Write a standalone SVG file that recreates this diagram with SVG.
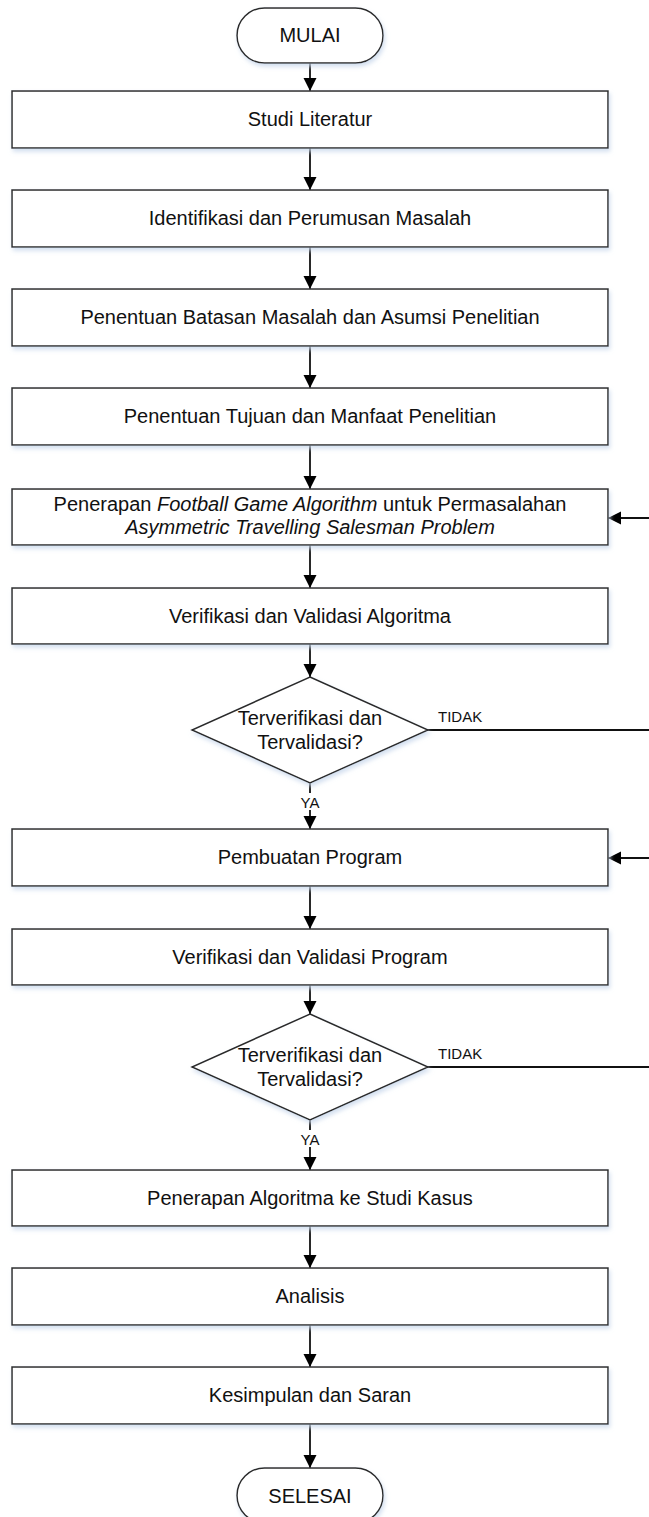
<svg xmlns="http://www.w3.org/2000/svg" width="649" height="1517" viewBox="0 0 649 1517">
<style>
.box{fill:#fff;stroke:#2b2b2b;stroke-width:1.5;filter:url(#sh)}
.t{font-family:"Liberation Sans",Arial,sans-serif;font-size:20px;fill:#111;text-anchor:middle}
.lbl{font-family:"Liberation Sans",Arial,sans-serif;font-size:15px;fill:#111}
.c{fill:none;stroke:#111;stroke-width:1.8}
</style>
<defs>
<filter id="sh" x="-5%" y="-20%" width="112%" height="150%">
<feDropShadow dx="1.5" dy="3" stdDeviation="2" flood-color="#c9d8ec" flood-opacity="0.8"/>
</filter>
<marker id="ah" markerUnits="userSpaceOnUse" markerWidth="14" markerHeight="14" viewBox="0 0 14 14" refX="13" refY="7" orient="auto">
<path d="M0,0.5 L13,7 L0,13.5 Z" fill="#000"/>
</marker>
</defs>
<g id="connectors">
<line class="c" x1="310" y1="63" x2="310" y2="91" marker-end="url(#ah)"/>
<line class="c" x1="310" y1="148" x2="310" y2="190" marker-end="url(#ah)"/>
<line class="c" x1="310" y1="247" x2="310" y2="289" marker-end="url(#ah)"/>
<line class="c" x1="310" y1="346" x2="310" y2="388" marker-end="url(#ah)"/>
<line class="c" x1="310" y1="445" x2="310" y2="489" marker-end="url(#ah)"/>
<line class="c" x1="310" y1="545" x2="310" y2="588" marker-end="url(#ah)"/>
<line class="c" x1="310" y1="644" x2="310" y2="677" marker-end="url(#ah)"/>
<line class="c" x1="310" y1="783" x2="310" y2="829" marker-end="url(#ah)"/>
<line class="c" x1="310" y1="886" x2="310" y2="929" marker-end="url(#ah)"/>
<line class="c" x1="310" y1="985" x2="310" y2="1014" marker-end="url(#ah)"/>
<line class="c" x1="310" y1="1120" x2="310" y2="1170" marker-end="url(#ah)"/>
<line class="c" x1="310" y1="1226" x2="310" y2="1268" marker-end="url(#ah)"/>
<line class="c" x1="310" y1="1325" x2="310" y2="1367" marker-end="url(#ah)"/>
<line class="c" x1="310" y1="1424" x2="310" y2="1468" marker-end="url(#ah)"/>
<path class="c" d="M428,730 H660 V518 H608" marker-end="url(#ah)"/>
<path class="c" d="M428,1067 H660 V858 H608" marker-end="url(#ah)"/>
<rect x="297" y="793" width="26" height="17" fill="#fff"/>
<text class="lbl" x="310" y="808" text-anchor="middle">YA</text>
<rect x="297" y="1130" width="26" height="17" fill="#fff"/>
<text class="lbl" x="310" y="1145" text-anchor="middle">YA</text>
<text class="lbl" x="438" y="722">TIDAK</text>
<text class="lbl" x="438" y="1059">TIDAK</text>
</g>
<g id="mulai"><rect class="box" x="237" y="8" width="146" height="55" rx="27.5"/><text class="t" x="310" y="42">MULAI</text></g>
<g id="studi"><rect class="box" x="12" y="91" width="596" height="57"/><text class="t" x="310" y="126">Studi Literatur</text></g>
<g id="identifikasi"><rect class="box" x="12" y="190" width="596" height="57"/><text class="t" x="310" y="225">Identifikasi dan Perumusan Masalah</text></g>
<g id="batasan"><rect class="box" x="12" y="289" width="596" height="57"/><text class="t" x="310" y="324">Penentuan Batasan Masalah dan Asumsi Penelitian</text></g>
<g id="tujuan"><rect class="box" x="12" y="388" width="596" height="57"/><text class="t" x="310" y="423">Penentuan Tujuan dan Manfaat Penelitian</text></g>
<g id="penerapan-fga"><rect class="box" x="12" y="489" width="596" height="56"/><text class="t" x="310" y="511">Penerapan <tspan font-style="italic">Football Game Algorithm</tspan> untuk Permasalahan</text><text class="t" x="310" y="534" font-style="italic">Asymmetric Travelling Salesman Problem</text></g>
<g id="verval-algoritma"><rect class="box" x="12" y="588" width="596" height="56"/><text class="t" x="310" y="623">Verifikasi dan Validasi Algoritma</text></g>
<g id="decision1"><polygon class="box" points="310,677 428,730 310,783 192,730"/><text class="t" x="310" y="725">Terverifikasi dan</text><text class="t" x="310" y="749">Tervalidasi?</text></g>
<g id="pembuatan"><rect class="box" x="12" y="829" width="596" height="57"/><text class="t" x="310" y="864">Pembuatan Program</text></g>
<g id="verval-program"><rect class="box" x="12" y="929" width="596" height="56"/><text class="t" x="310" y="964">Verifikasi dan Validasi Program</text></g>
<g id="decision2"><polygon class="box" points="310,1014 428,1067 310,1120 192,1067"/><text class="t" x="310" y="1062">Terverifikasi dan</text><text class="t" x="310" y="1086">Tervalidasi?</text></g>
<g id="studi-kasus"><rect class="box" x="12" y="1170" width="596" height="56"/><text class="t" x="310" y="1205">Penerapan Algoritma ke Studi Kasus</text></g>
<g id="analisis"><rect class="box" x="12" y="1268" width="596" height="57"/><text class="t" x="310" y="1303">Analisis</text></g>
<g id="kesimpulan"><rect class="box" x="12" y="1367" width="596" height="57"/><text class="t" x="310" y="1402">Kesimpulan dan Saran</text></g>
<g id="selesai"><rect class="box" x="237" y="1468" width="146" height="55" rx="27.5"/><text class="t" x="310" y="1503">SELESAI</text></g>
</svg>
